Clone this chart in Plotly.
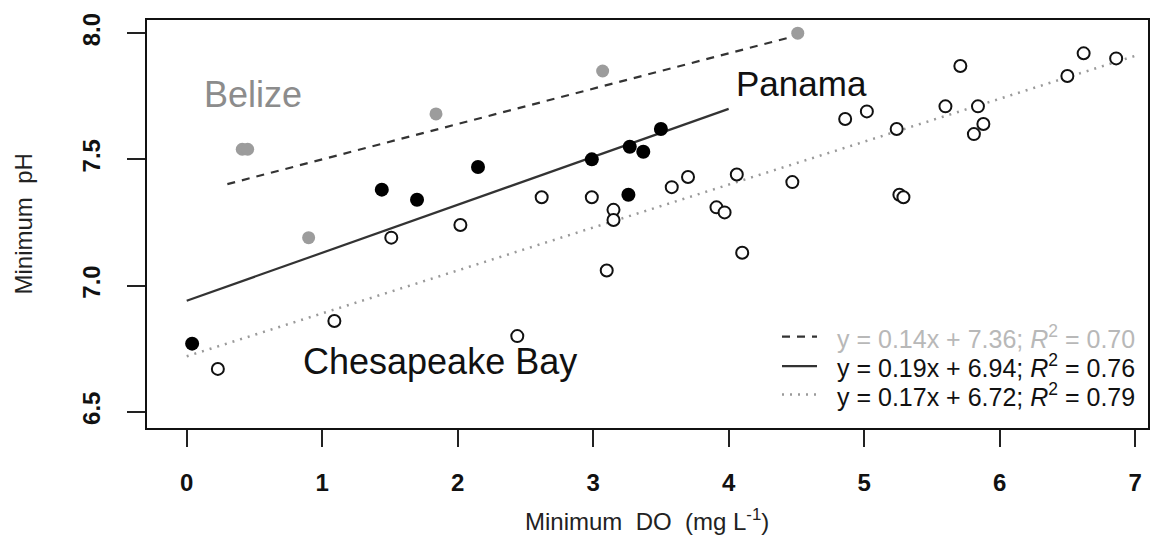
import plotly.graph_objects as go

# ---------------- data ----------------
belize_do = [0.41, 0.45, 0.90, 1.84, 3.07, 4.51]
belize_ph = [7.54, 7.54, 7.19, 7.68, 7.85, 8.00]

panama_do = [0.04, 1.44, 1.70, 2.15, 2.99, 3.26, 3.27, 3.37, 3.50]
panama_ph = [6.77, 7.38, 7.34, 7.47, 7.50, 7.36, 7.55, 7.53, 7.62]

chesapeake_do = [0.23, 1.09, 1.51, 2.02, 2.44, 2.62, 2.99, 3.10, 3.15, 3.15,
                 3.58, 3.70, 3.91, 3.97, 4.06, 4.10, 4.47, 4.86, 5.02, 5.24,
                 5.26, 5.29, 5.60, 5.71, 5.81, 5.84, 5.88, 6.50, 6.62, 6.86]
chesapeake_ph = [6.67, 6.86, 7.19, 7.24, 6.80, 7.35, 7.35, 7.06, 7.30, 7.26,
                 7.39, 7.43, 7.31, 7.29, 7.44, 7.13, 7.41, 7.66, 7.69, 7.62,
                 7.36, 7.35, 7.71, 7.87, 7.60, 7.71, 7.64, 7.83, 7.92, 7.90]

# regression fits: slope, intercept, x-extent
fit_names = ["Belize", "Panama", "Chesapeake Bay"]
fit_slope = [0.14, 0.19, 0.17]
fit_intercept = [7.36, 6.94, 6.72]
fit_r2 = [0.70, 0.76, 0.79]
fit_x_start = [0.30, 0.0, 0.0]
fit_x_end = [4.51, 4.0, 7.0]

x_ticks = [0, 1, 2, 3, 4, 5, 6, 7]
y_ticks = [6.5, 7.0, 7.5, 8.0]
y_tick_text = ["6.5", "7.0", "7.5", "8.0"]

# ---------------- styles ----------------
FONT = "Liberation Sans, Arial, sans-serif"
fit_styles = [
    dict(color="#333333", width=2.2, dash="8px,7px"),
    dict(color="#333333", width=2.2, dash="solid"),
    dict(color="#9a9a9a", width=2.5, dash="2px,6px"),
]
legend_text_color = ["#b8b8b8", "#111111", "#111111"]

# the page body has an 8px default margin; figure is sized to fit the window
OFF = 8
W, H = 1173 - OFF, 542 - OFF
ML, MR, MT, MB = 147 - OFF, 25, 13 - OFF, 114
PW, PH = W - ML - MR, H - MT - MB


def px_x(px):  # page pixel -> paper x
    return (px - OFF - ML) / PW


def px_y(py):  # page pixel -> paper y
    return (H - MB - (py - OFF)) / PH


fig = go.Figure()

# fit lines
for i in range(3):
    xs = [fit_x_start[i], fit_x_end[i]]
    ys = [fit_slope[i] * x + fit_intercept[i] for x in xs]
    fig.add_trace(go.Scatter(x=xs, y=ys, mode="lines", line=fit_styles[i],
                             showlegend=False, hoverinfo="skip"))

# points
fig.add_trace(go.Scatter(x=chesapeake_do, y=chesapeake_ph, mode="markers",
                         marker=dict(size=12, color="white",
                                     line=dict(color="#111111", width=2)),
                         showlegend=False))
fig.add_trace(go.Scatter(x=belize_do, y=belize_ph, mode="markers",
                         marker=dict(size=13, color="#9c9c9c", line=dict(width=0)),
                         showlegend=False))
fig.add_trace(go.Scatter(x=panama_do, y=panama_ph, mode="markers",
                         marker=dict(size=14, color="#000000", line=dict(width=0)),
                         showlegend=False))

# region labels
fig.add_annotation(x=0.49, y=7.755, text="Belize", showarrow=False,
                   font=dict(family=FONT, size=36, color="#8c8c8c"))
fig.add_annotation(x=4.54, y=7.80, text="Panama", showarrow=False,
                   font=dict(family=FONT, size=35, color="#111111"))
fig.add_annotation(x=1.87, y=6.70, text="Chesapeake Bay", showarrow=False,
                   font=dict(family=FONT, size=36, color="#111111"))

# legend (keys + equations)
row_y = [335, 365, 394]
for i in range(3):
    yp = px_y(row_y[i])
    fig.add_shape(type="line", xref="paper", yref="paper",
                  x0=px_x(782), x1=px_x(817), y0=yp, y1=yp,
                  line=fit_styles[i])
    txt = (f"y = {fit_slope[i]:.2f}x + {fit_intercept[i]:.2f}; "
           f"<i>R</i><sup>2</sup> = {fit_r2[i]:.2f}")
    fig.add_annotation(xref="paper", yref="paper", x=px_x(835), y=yp,
                       xanchor="left", yanchor="middle", text=txt,
                       showarrow=False,
                       font=dict(family=FONT, size=25, color=legend_text_color[i]))

# axis titles
fig.add_annotation(xref="paper", yref="paper", x=px_x(647), y=px_y(522),
                   xanchor="center", yanchor="middle",
                   text="Minimum\u00a0\u00a0DO\u00a0\u00a0(mg\u00a0L<sup>-1</sup>)",
                   showarrow=False,
                   font=dict(family=FONT, size=24, color="#222222"))
fig.add_annotation(xref="paper", yref="paper", x=px_x(23), y=px_y(221),
                   xanchor="center", yanchor="middle",
                   text="Minimum\u00a0\u00a0pH", textangle=-90, showarrow=False,
                   font=dict(family=FONT, size=24, color="#222222"))

fig.update_xaxes(range=[-0.293, 7.095], tickvals=x_ticks,
                 ticktext=[str(t) for t in x_ticks],
                 showgrid=False, zeroline=False,
                 showline=True, linecolor="#111111", linewidth=2, mirror=True,
                 ticks="outside", ticklen=17, tickwidth=2, tickcolor="#222222",
                 ticklabelstandoff=15,
                 tickfont=dict(family=FONT, size=24, color="#111111", weight="bold"))
fig.update_yaxes(range=[6.436, 8.052], tickvals=y_ticks, ticktext=y_tick_text,
                 tickangle=-90,
                 showgrid=False, zeroline=False,
                 showline=True, linecolor="#111111", linewidth=2, mirror=True,
                 ticks="outside", ticklen=18, tickwidth=2, tickcolor="#222222",
                 ticklabelstandoff=17,
                 tickfont=dict(family=FONT, size=24, color="#111111", weight="bold"))

fig.update_layout(width=W, height=H,
                  margin=dict(l=ML, r=MR, t=MT, b=MB),
                  paper_bgcolor="white", plot_bgcolor="white",
                  showlegend=False)

fig.write_html("out.html")
